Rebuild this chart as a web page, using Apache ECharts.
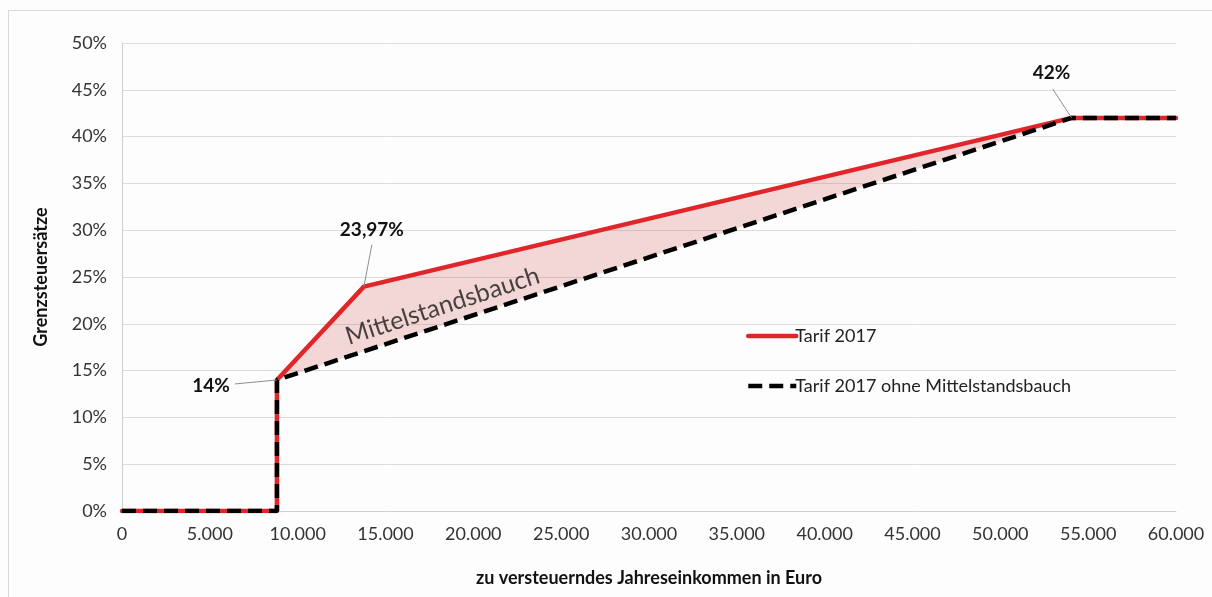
<!DOCTYPE html>
<html>
<head>
<meta charset="utf-8">
<script src="https://cdn.jsdelivr.net/npm/echarts@6/dist/echarts.min.js"></script>
<style>
  html, body { margin:0; padding:0; background:#fdfdfd; }
  #frame { position:absolute; left:8px; top:10px; width:1220px; height:600px; border-left:1px solid #d9d9d9; border-top:1px solid #d9d9d9; }
  #chart { position:absolute; left:0; top:0; width:1212px; height:597px; }
</style>
</head>
<body>
<div id="frame"></div>
<div id="chart"></div>
<script>
// Tarif 2017 (with Mittelstandsbauch)
const tarifX = [0, 8820, 8820, 13770, 54058, 60000];
const tarifY = [0, 0, 14, 23.97, 42, 42];
// Tarif 2017 ohne Mittelstandsbauch
const ohneX = [0, 8820, 8820, 54058, 60000];
const ohneY = [0, 0, 14, 42, 42];
// annotated points
const annoX = [8820, 13770, 54058];
const annoY = [14, 23.97, 42];
const annoText = ['14%', '23,97%', '42%'];
const yTicks = [0, 5, 10, 15, 20, 25, 30, 35, 40, 45, 50];
const seriesNames = ['Tarif 2017', 'Tarif 2017 ohne Mittelstandsbauch'];
const bandLabel = 'Mittelstandsbauch';
const bandLabelPos = [18250, 21.9];

const FONT = 'Lato, "Open Sans", sans-serif';

const chart = echarts.init(document.getElementById('chart'), null, {renderer: 'canvas'});

// label centre offset and leader-line end offset (pixels, relative to the point)
const annoLabelOff = [[-66, 6], [8, -57], [-20, -45]];
const annoLineOff = [[-42, 4], [8, -42], [-19, -29]];

chart.setOption({
  backgroundColor: 'transparent',
  animation: false,
  grid: { left: 122, right: 36, top: 43, bottom: 86 },
  xAxis: {
    type: 'value', min: 0, max: 60000, interval: 5000,
    axisLine: { show: true, lineStyle: { color: '#d0d0d0', width: 1 } },
    axisTick: { show: false },
    splitLine: { show: false },
    axisLabel: { color: '#333', fontSize: 18, fontFamily: FONT, margin: 14,
      formatter: v => v === 0 ? '0' : (v / 1000).toFixed(0) + '.000' },
    name: 'zu versteuerndes Jahreseinkommen in Euro',
    nameLocation: 'middle', nameGap: 58,
    nameTextStyle: { color: '#111', fontSize: 18, fontWeight: 'bold', fontFamily: FONT }
  },
  yAxis: {
    type: 'value', min: yTicks[0], max: yTicks[yTicks.length - 1], interval: 5,
    axisLine: { show: true, lineStyle: { color: '#d0d0d0', width: 1 } },
    axisTick: { show: false },
    splitLine: { show: true, lineStyle: { color: '#dcdcdc', width: 1 } },
    axisLabel: { color: '#333', fontSize: 18, fontFamily: FONT, margin: 15, formatter: '{value}%' },
    name: 'Grenzsteuersätze', nameLocation: 'middle', nameGap: 72, nameRotate: 90,
    nameTextStyle: { color: '#111', fontSize: 18, fontWeight: 'bold', fontFamily: FONT }
  },
  legend: {
    orient: 'vertical', left: 741, top: 322, itemGap: 32,
    itemWidth: 48, itemHeight: 18,
    itemStyle: { opacity: 0 },
    lineStyle: { width: 4.5 },
    textStyle: { color: '#222', fontSize: 18, fontFamily: FONT, padding: [0, 0, 0, -6] },
    data: seriesNames
  },
  series: [
    {
      type: 'custom', silent: true, z: 1,
      data: [0],
      renderItem: function (params, api) {
        const pts = [];
        for (let i = 2; i < tarifX.length - 1; i++) pts.push(api.coord([tarifX[i], tarifY[i]]));
        for (let i = ohneX.length - 2; i >= 2; i--) pts.push(api.coord([ohneX[i], ohneY[i]]));
        return { type: 'polygon', shape: { points: pts }, style: { fill: 'rgba(205,60,60,0.2)' } };
      }
    },
    {
      name: seriesNames[0], type: 'line', z: 3,
      data: tarifX.map((x, i) => [x, tarifY[i]]),
      symbol: 'none', showSymbol: false,
      lineStyle: { color: '#e0262a', width: 4.5, cap: 'round', join: 'round' },
      itemStyle: { color: '#e0262a' }
    },
    {
      name: seriesNames[1], type: 'line', z: 4,
      data: ohneX.map((x, i) => [x, ohneY[i]]),
      symbol: 'none', showSymbol: false,
      lineStyle: { color: '#000', width: 4.5, type: [14, 7], cap: 'butt' },
      itemStyle: { color: '#000' }
    },
    {
      type: 'custom', z: 6, silent: true,
      data: annoX.map((x, i) => [x, annoY[i], i]),
      renderItem: function (params, api) {
        const i = api.value(2);
        const p = api.coord([api.value(0), api.value(1)]);
        return {
          type: 'group',
          children: [
            { type: 'line', shape: { x1: p[0], y1: p[1], x2: p[0] + annoLineOff[i][0], y2: p[1] + annoLineOff[i][1] },
              style: { stroke: '#8c8c8c', lineWidth: 1 } },
            { type: 'text', x: p[0] + annoLabelOff[i][0], y: p[1] + annoLabelOff[i][1],
              style: { text: annoText[i], fill: '#111', font: 'bold 19px ' + FONT, align: 'center', verticalAlign: 'middle' } }
          ]
        };
      }
    },
    {
      type: 'scatter', z: 5, silent: true, symbolSize: 0,
      data: [{ value: bandLabelPos, name: bandLabel }],
      label: {
        show: true, position: 'inside', formatter: p => p.name, rotate: 18,
        color: '#1a1a1a', fontSize: 25, fontFamily: FONT
      }
    }
  ]
});
</script>
</body>
</html>
